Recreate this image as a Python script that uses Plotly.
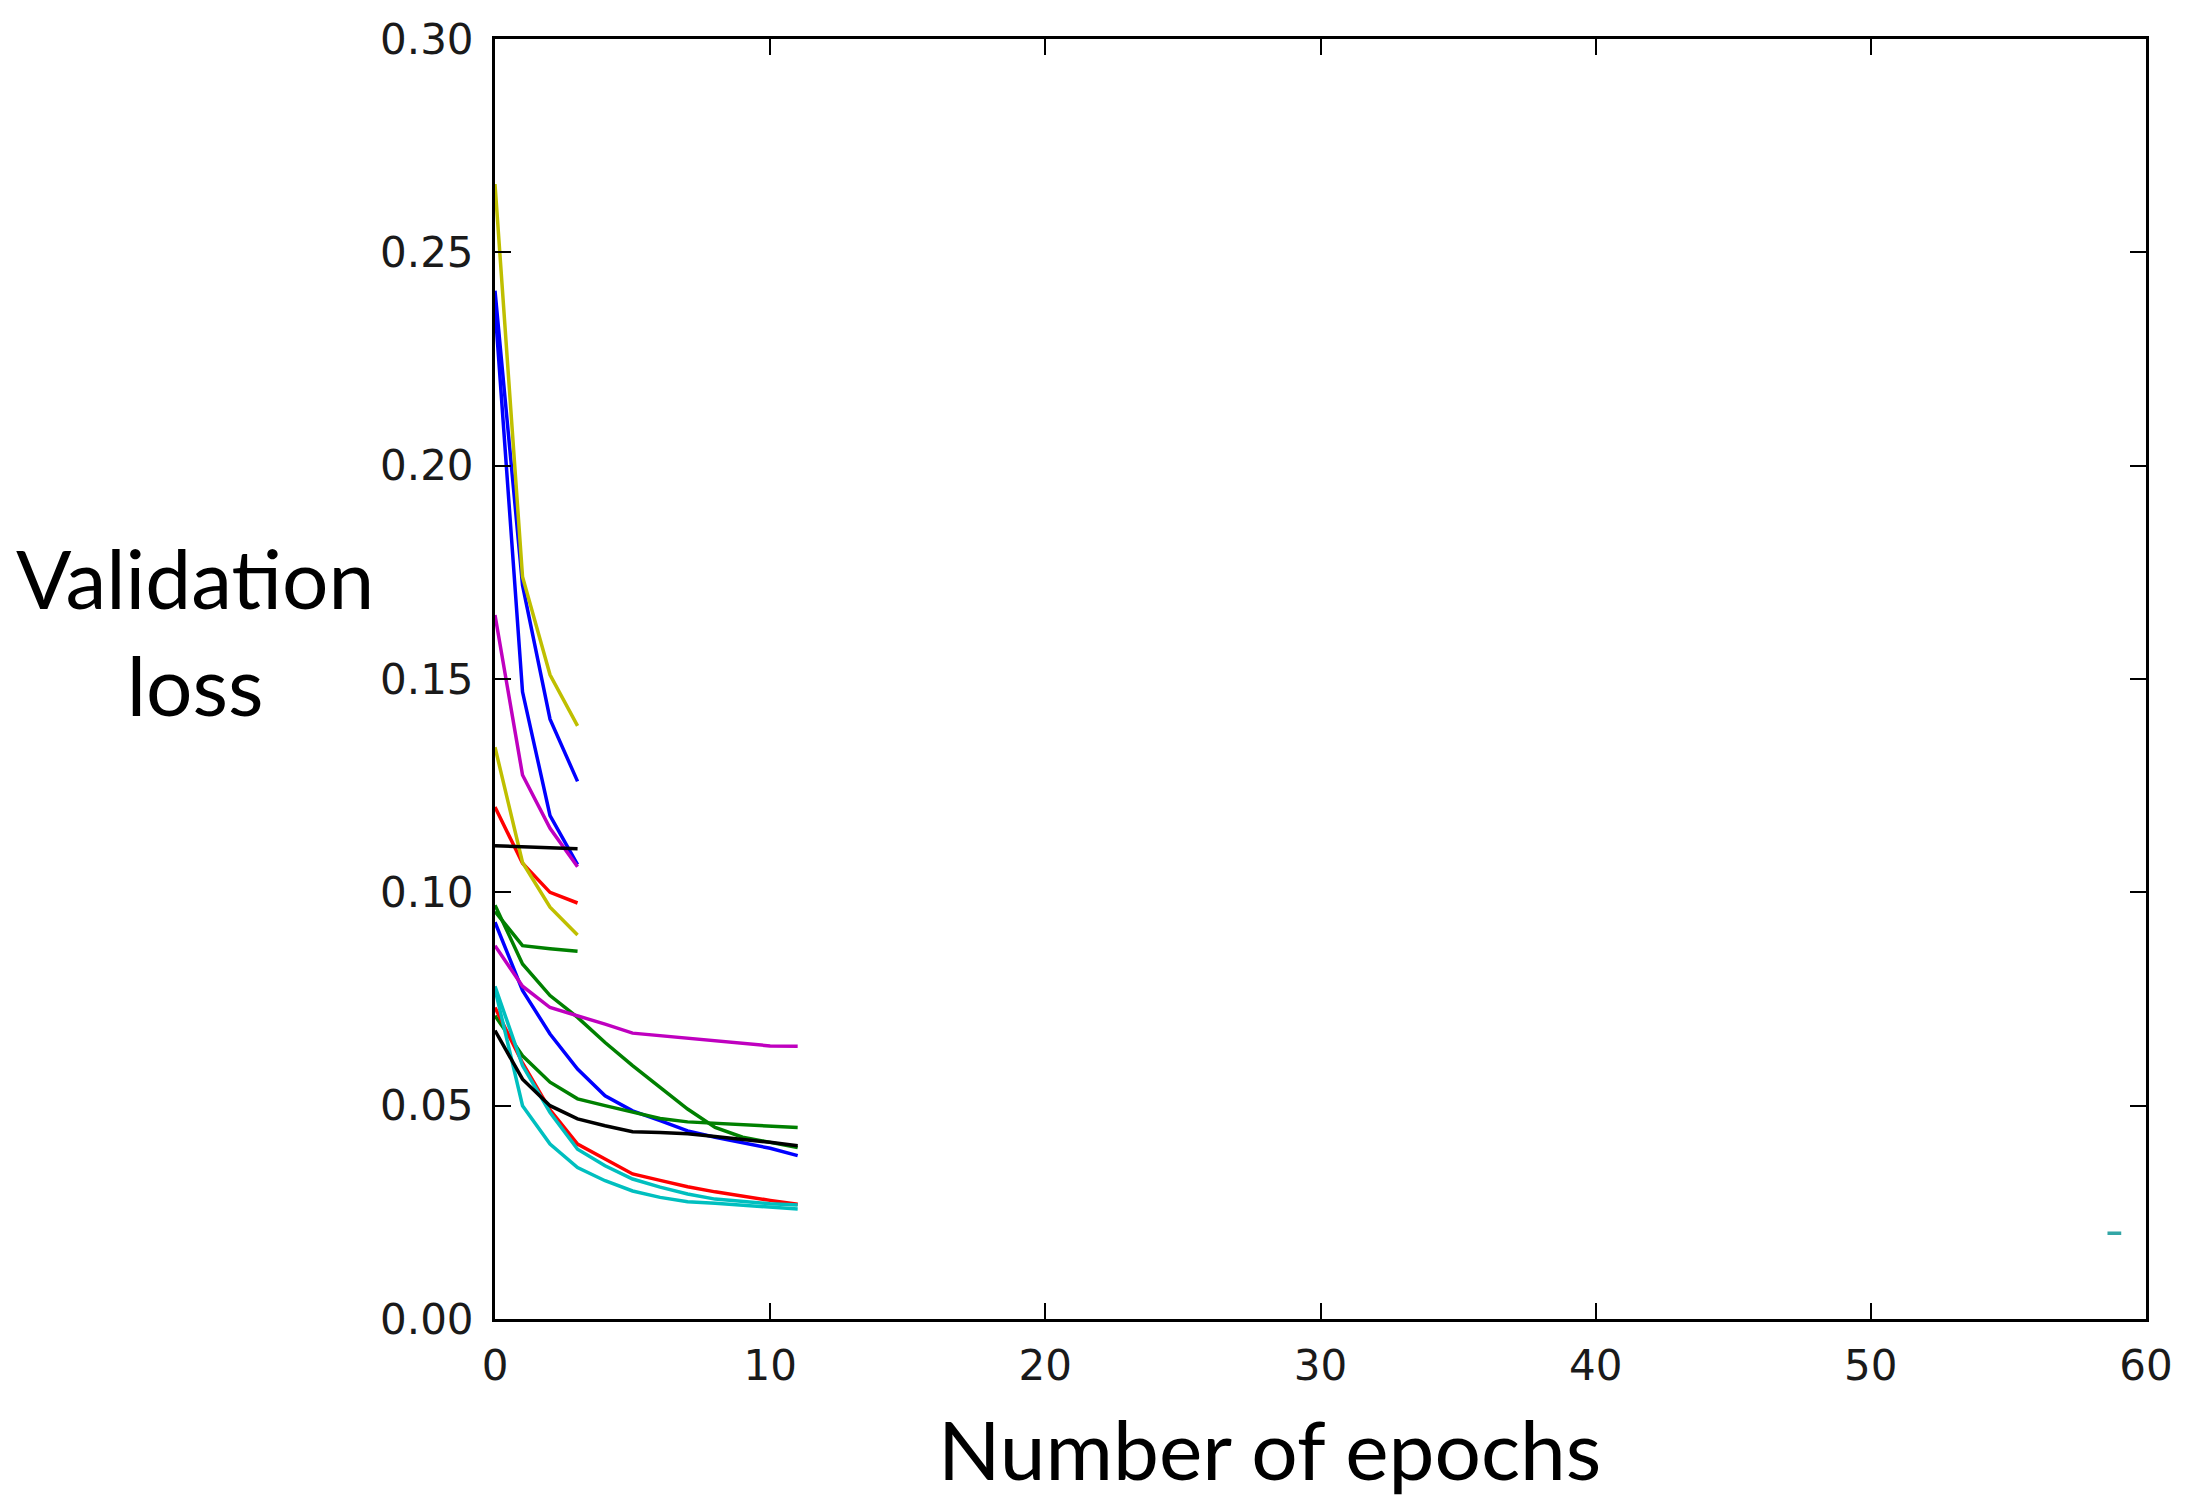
import plotly.graph_objects as go

# ---- data ----
epochs_short = [0, 1, 2, 3]
epochs_long = [0, 1, 2, 3, 4, 5, 6, 7, 8, 9, 10, 11]
epochs_tail = [58.6, 59.1]

yellow_a = [0.266, 0.174, 0.151, 0.139]
blue_a = [0.241, 0.172, 0.1406, 0.126]
blue_b = [0.237, 0.147, 0.118, 0.1065]
magenta_a = [0.165, 0.1275, 0.115, 0.106]
yellow_b = [0.134, 0.107, 0.0965, 0.090]
red_a = [0.120, 0.1068, 0.100, 0.0975]
black_a = [0.1109, 0.1107, 0.1104, 0.1102]
green_a = [0.0955, 0.0875, 0.0868, 0.0862]

green_b = [0.097, 0.0832, 0.0758, 0.0707, 0.0648, 0.0594, 0.0543, 0.0492, 0.0449, 0.0426, 0.0414, 0.0402]
blue_c = [0.093, 0.077, 0.0668, 0.0586, 0.0523, 0.0488, 0.0465, 0.0441, 0.0426, 0.0414, 0.0400, 0.0383]
magenta_b = [0.0875, 0.078, 0.073, 0.0711, 0.0691, 0.067, 0.0664, 0.0658, 0.0652, 0.0647, 0.0640, 0.0639]
green_c = [0.0711, 0.0617, 0.0555, 0.0516, 0.0500, 0.0484, 0.0470, 0.0462, 0.0459, 0.0455, 0.0452, 0.0449]
black_b = [0.0676, 0.0562, 0.0500, 0.0469, 0.0453, 0.0439, 0.0437, 0.0434, 0.0428, 0.0422, 0.0414, 0.0406]
red_b = [0.073, 0.060, 0.049, 0.041, 0.0375, 0.034, 0.0325, 0.031, 0.0298, 0.0287, 0.0278, 0.0269]
cyan_a = [0.078, 0.0594, 0.0484, 0.0398, 0.0359, 0.0328, 0.0309, 0.0293, 0.0281, 0.0275, 0.0270, 0.0267]
cyan_b = [0.0773, 0.050, 0.041, 0.0355, 0.0324, 0.0300, 0.0285, 0.0275, 0.0271, 0.0267, 0.0262, 0.0258]
cyan_tail = [0.0201, 0.0201]

y_ticks = [0.0, 0.05, 0.10, 0.15, 0.20, 0.25, 0.30]
x_ticks = [0, 10, 20, 30, 40, 50, 60]

B, G, R, C, M, Y, K = "#0000ff", "#008000", "#ff0000", "#00bfbf", "#bf00bf", "#bfbf00", "#000000"

series = [
    (epochs_long, blue_c, B),
    (epochs_long, green_b, G),
    (epochs_long, green_c, G),
    (epochs_long, red_b, R),
    (epochs_long, cyan_a, C),
    (epochs_long, cyan_b, C),
    (epochs_long, magenta_b, M),
    (epochs_long, black_b, K),
    (epochs_short, blue_a, B),
    (epochs_short, blue_b, B),
    (epochs_short, green_a, G),
    (epochs_short, red_a, R),
    (epochs_short, magenta_a, M),
    (epochs_short, yellow_a, Y),
    (epochs_short, yellow_b, Y),
    (epochs_short, black_a, K),
    (epochs_tail, cyan_tail, "#33a6a6"),
]

fig = go.Figure()
for xs, ys, col in series:
    fig.add_trace(go.Scatter(x=xs, y=ys, mode="lines",
                             line=dict(color=col, width=3.5), showlegend=False,
                             hoverinfo="skip"))

tickfont = dict(family="DejaVu Sans", size=42, color="#1a1a1a")
axis_common = dict(showgrid=False, zeroline=False, showline=True, linecolor="black",
                   linewidth=3, mirror="ticks", ticks="inside", ticklen=16,
                   tickwidth=2, tickcolor="black", tickfont=tickfont)

fig.update_xaxes(range=[0, 60], tickvals=x_ticks, ticktext=[str(v) for v in x_ticks],
                 ticklabelstandoff=8, **axis_common)
fig.update_yaxes(range=[0, 0.30], tickvals=y_ticks,
                 ticktext=[f"{v:.2f}" for v in y_ticks],
                 ticklabelstandoff=10, **axis_common)

title_font = dict(family="Lato", size=82, color="black")
fig.add_annotation(text="Validation<br>loss", xref="paper", yref="paper",
                   x=-0.1815, y=0.538, xanchor="center", yanchor="middle",
                   showarrow=False, font=title_font, align="center")
fig.add_annotation(text="Number of epochs", xref="paper", yref="paper",
                   x=0.469, y=-0.101, xanchor="center", yanchor="middle",
                   showarrow=False, font=title_font)

fig.update_layout(width=2185, height=1498,
                  margin=dict(l=495, r=37, t=39, b=179),
                  paper_bgcolor="white", plot_bgcolor="white")

fig.write_html("out.html")
